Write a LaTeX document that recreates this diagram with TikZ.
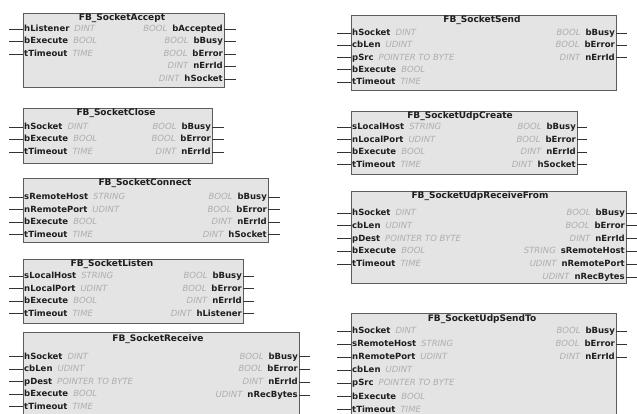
\documentclass[tikz,border=0pt]{standalone}
\usepackage{fontspec}
\setmainfont{DejaVu Sans}
\usetikzlibrary{shadows}

\definecolor{fbfill}{HTML}{E4E4E4}
\definecolor{fbedge}{HTML}{5C5C5C}
\definecolor{typegray}{HTML}{AEAEAE}
\definecolor{pintext}{HTML}{1E1E1E}

\newcommand{\tp}[1]{{\color{typegray}\itshape #1}}

\begin{document}
\begin{tikzpicture}[
        x=1pt, y=-1pt,
        fblock/.style={rectangle, draw=fbedge, line width=1pt, fill=fbfill, anchor=north west, inner sep=0pt, drop shadow={shadow xshift=0.9pt, shadow yshift=-0.9pt, fill=black!50, opacity=1}},
        fbtitle/.style={font=\bfseries\fontsize{9}{10}\selectfont, text=pintext, inner sep=0pt},
        inport/.style={anchor=west, inner sep=1pt, text height=7pt, text depth=2pt, font=\fontsize{8.5}{10}\selectfont, text=pintext},
        outport/.style={inport, anchor=east},
        stub/.style={draw=black!80, line width=0.9pt}
    ]
        \useasboundingbox (0,0) rectangle (637,414);
        \clip (0,0) rectangle (637,414);

        % FB_SocketAccept
        \node[fblock, minimum width=201pt, minimum height=74pt] (acc) at (23,13) {};
        \node[fbtitle] (acc-t) at (122,18) {FB\_SocketAccept};
        \foreach \n/\t [count=\i] in {hListener/DINT, bExecute/BOOL, tTimeout/TIME} {
            \node[inport] (acc-in\i) at (23,{29+12.5*(\i-1)}) {\textbf{\n}\hspace{5pt}\tp{\t}};
            \draw[stub] (acc-in\i.west) -- ++(-14,0) coordinate (acc-ie\i);
        }
        \foreach \n/\t [count=\i] in {bAccepted/BOOL, bBusy/BOOL, bError/BOOL, nErrId/DINT, hSocket/DINT} {
            \node[outport] (acc-out\i) at (224,{29+12.5*(\i-1)}) {\tp{\t}\hspace{5pt}\textbf{\n}};
            \draw[stub] (acc-out\i.east) -- ++(12,0) coordinate (acc-oe\i);
        }

        % FB_SocketClose
        \node[fblock, minimum width=189pt, minimum height=55pt] (cls) at (23,108) {};
        \node[fbtitle] (cls-t) at (116,113) {FB\_SocketClose};
        \foreach \n/\t [count=\i] in {hSocket/DINT, bExecute/BOOL, tTimeout/TIME} {
            \node[inport] (cls-in\i) at (23,{127+12.5*(\i-1)}) {\textbf{\n}\hspace{5pt}\tp{\t}};
            \draw[stub] (cls-in\i.west) -- ++(-14,0) coordinate (cls-ie\i);
        }
        \foreach \n/\t [count=\i] in {bBusy/BOOL, bError/BOOL, nErrId/DINT} {
            \node[outport] (cls-out\i) at (212,{127+12.5*(\i-1)}) {\tp{\t}\hspace{5pt}\textbf{\n}};
            \draw[stub] (cls-out\i.east) -- ++(12,0) coordinate (cls-oe\i);
        }

        % FB_SocketConnect
        \node[fblock, minimum width=245pt, minimum height=64pt] (con) at (23,178) {};
        \node[fbtitle] (con-t) at (145,183) {FB\_SocketConnect};
        \foreach \n/\t [count=\i] in {sRemoteHost/STRING, nRemotePort/UDINT, bExecute/BOOL, tTimeout/TIME} {
            \node[inport] (con-in\i) at (23,{197+12.6*(\i-1)}) {\textbf{\n}\hspace{5pt}\tp{\t}};
            \draw[stub] (con-in\i.west) -- ++(-14,0) coordinate (con-ie\i);
        }
        \foreach \n/\t [count=\i] in {bBusy/BOOL, bError/BOOL, nErrId/DINT, hSocket/DINT} {
            \node[outport] (con-out\i) at (268,{197+12.6*(\i-1)}) {\tp{\t}\hspace{5pt}\textbf{\n}};
            \draw[stub] (con-out\i.east) -- ++(12,0) coordinate (con-oe\i);
        }

        % FB_SocketListen
        \node[fblock, minimum width=220pt, minimum height=64pt] (lis) at (23,259) {};
        \node[fbtitle] (lis-t) at (112,264) {FB\_SocketListen};
        \foreach \n/\t [count=\i] in {sLocalHost/STRING, nLocalPort/UDINT, bExecute/BOOL, tTimeout/TIME} {
            \node[inport] (lis-in\i) at (23,{276+12.6*(\i-1)}) {\textbf{\n}\hspace{5pt}\tp{\t}};
            \draw[stub] (lis-in\i.west) -- ++(-14,0) coordinate (lis-ie\i);
        }
        \foreach \n/\t [count=\i] in {bBusy/BOOL, bError/BOOL, nErrId/DINT, hListener/DINT} {
            \node[outport] (lis-out\i) at (243,{276+12.6*(\i-1)}) {\tp{\t}\hspace{5pt}\textbf{\n}};
            \draw[stub] (lis-out\i.east) -- ++(11,0) coordinate (lis-oe\i);
        }

        % FB_SocketReceive
        \node[fblock, minimum width=276pt, minimum height=90pt] (rcv) at (23,332) {};
        \node[fbtitle] (rcv-t) at (158,339) {FB\_SocketReceive};
        \foreach \n/\t [count=\i] in {hSocket/DINT, cbLen/UDINT, pDest/POINTER TO BYTE, bExecute/BOOL, tTimeout/TIME} {
            \node[inport] (rcv-in\i) at (23,{356.5+12.6*(\i-1)}) {\textbf{\n}\hspace{5pt}\tp{\t}};
            \draw[stub] (rcv-in\i.west) -- ++(-14,0) coordinate (rcv-ie\i);
        }
        \foreach \n/\t [count=\i] in {bBusy/BOOL, bError/BOOL, nErrId/DINT, nRecBytes/UDINT} {
            \node[outport] (rcv-out\i) at (299,{356.5+12.9*(\i-1)}) {\tp{\t}\hspace{5pt}\textbf{\n}};
            \draw[stub] (rcv-out\i.east) -- ++(11,0) coordinate (rcv-oe\i);
        }

        % FB_SocketSend
        \node[fblock, minimum width=265pt, minimum height=75pt] (snd) at (351,15) {};
        \node[fbtitle] (snd-t) at (482,20) {FB\_SocketSend};
        \foreach \n/\t [count=\i] in {hSocket/DINT, cbLen/UDINT, pSrc/POINTER TO BYTE, bExecute/BOOL, tTimeout/TIME} {
            \node[inport] (snd-in\i) at (351,{33+12.3*(\i-1)}) {\textbf{\n}\hspace{5pt}\tp{\t}};
            \draw[stub] (snd-in\i.west) -- ++(-14,0) coordinate (snd-ie\i);
        }
        \foreach \n/\t [count=\i] in {bBusy/BOOL, bError/BOOL, nErrId/DINT} {
            \node[outport] (snd-out\i) at (616,{33+12.3*(\i-1)}) {\tp{\t}\hspace{5pt}\textbf{\n}};
            \draw[stub] (snd-out\i.east) -- ++(11,0) coordinate (snd-oe\i);
        }

        % FB_SocketUdpCreate
        \node[fblock, minimum width=226pt, minimum height=63pt] (udc) at (351,111) {};
        \node[fbtitle] (udc-t) at (460,116) {FB\_SocketUdpCreate};
        \foreach \n/\t [count=\i] in {sLocalHost/STRING, nLocalPort/UDINT, bExecute/BOOL, tTimeout/TIME} {
            \node[inport] (udc-in\i) at (351,{127+12.6*(\i-1)}) {\textbf{\n}\hspace{5pt}\tp{\t}};
            \draw[stub] (udc-in\i.west) -- ++(-14,0) coordinate (udc-ie\i);
        }
        \foreach \n/\t [count=\i] in {bBusy/BOOL, bError/BOOL, nErrId/DINT, hSocket/DINT} {
            \node[outport] (udc-out\i) at (577,{127+12.6*(\i-1)}) {\tp{\t}\hspace{5pt}\textbf{\n}};
            \draw[stub] (udc-out\i.east) -- ++(10,0) coordinate (udc-oe\i);
        }

        % FB_SocketUdpReceiveFrom
        \node[fblock, minimum width=275pt, minimum height=92pt] (urf) at (351,191) {};
        \node[fbtitle] (urf-t) at (480,196) {FB\_SocketUdpReceiveFrom};
        \foreach \n/\t [count=\i] in {hSocket/DINT, cbLen/UDINT, pDest/POINTER TO BYTE, bExecute/BOOL, tTimeout/TIME} {
            \node[inport] (urf-in\i) at (351,{213+12.8*(\i-1)}) {\textbf{\n}\hspace{5pt}\tp{\t}};
            \draw[stub] (urf-in\i.west) -- ++(-14,0) coordinate (urf-ie\i);
        }
        \foreach \n/\t [count=\i] in {bBusy/BOOL, bError/BOOL, nErrId/DINT, sRemoteHost/STRING, nRemotePort/UDINT, nRecBytes/UDINT} {
            \node[outport] (urf-out\i) at (626,{213+12.8*(\i-1)}) {\tp{\t}\hspace{5pt}\textbf{\n}};
            \draw[stub] (urf-out\i.east) -- ++(11,0) coordinate (urf-oe\i);
        }

        % FB_SocketUdpSendTo
        \node[fblock, minimum width=265pt, minimum height=110pt] (ust) at (351,313) {};
        \node[fbtitle] (ust-t) at (482,319) {FB\_SocketUdpSendTo};
        \foreach \n/\t [count=\i] in {hSocket/DINT, sRemoteHost/STRING, nRemotePort/UDINT, cbLen/UDINT, pSrc/POINTER TO BYTE, bExecute/BOOL, tTimeout/TIME} {
            \node[inport] (ust-in\i) at (351,{331+13.1*(\i-1)}) {\textbf{\n}\hspace{5pt}\tp{\t}};
            \draw[stub] (ust-in\i.west) -- ++(-14,0) coordinate (ust-ie\i);
        }
        \foreach \n/\t [count=\i] in {bBusy/BOOL, bError/BOOL, nErrId/DINT} {
            \node[outport] (ust-out\i) at (616,{331+13.1*(\i-1)}) {\tp{\t}\hspace{5pt}\textbf{\n}};
            \draw[stub] (ust-out\i.east) -- ++(11,0) coordinate (ust-oe\i);
        }
\end{tikzpicture}
\end{document}
